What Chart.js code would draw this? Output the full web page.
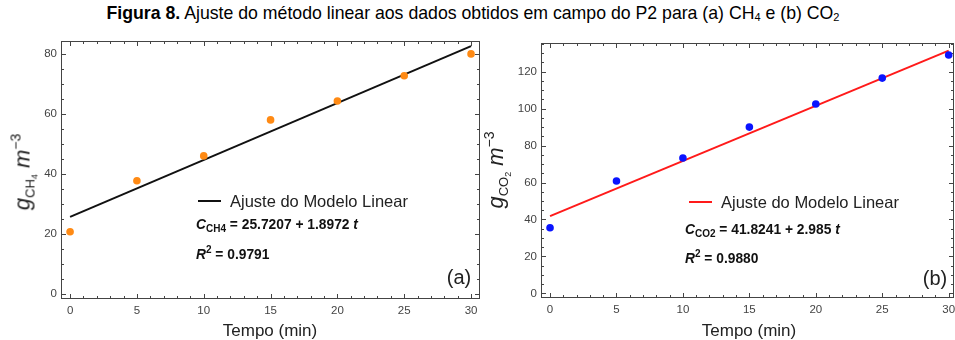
<!DOCTYPE html>
<html>
<head>
<meta charset="utf-8">
<script src="https://cdn.jsdelivr.net/npm/chart.js@4.4.1/dist/chart.umd.min.js"></script>
<style>
body { margin: 0; width: 955px; height: 340px; overflow: hidden; background: #fff; position: relative;
       font-family: "Liberation Sans", Arial, sans-serif; color: #222; }
.box { position: absolute; }
#title { position: absolute; left: 0; width: 946px; top: 4px; text-align: center; font-size: 17.7px; line-height: 19px; color: #000; }
#title sub { font-size: 11px; vertical-align: -2px; line-height: 0; }
.ytitle { position: absolute; transform: translate(-50%, -50%) rotate(-90deg); white-space: nowrap; font-size: 22px; line-height: 22px; color: #222; }
.ytitle .s { font-size: 13px; vertical-align: -5px; }
.ytitle .s2 { font-size: 9px; vertical-align: -3px; }
.ytitle .p { font-size: 14px; vertical-align: 9px; }
.xtitle { position: absolute; transform: translate(-50%, -50%); font-size: 17px; white-space: nowrap; }
.leg { position: absolute; font-size: 16.5px; line-height: 18px; white-space: nowrap; }
.leg span.ln { display: inline-block; width: 23px; height: 2px; vertical-align: 5px; margin-right: 9px; }
.eq { position: absolute; font-size: 13.8px; font-weight: bold; white-space: nowrap; line-height: 16px; color: #111; }
.eq .s { font-size: 10px; vertical-align: -3px; }
.eq .p { font-size: 10px; vertical-align: 6px; }
.tag { position: absolute; font-size: 20px; transform: translate(-50%, -50%); white-space: nowrap; }
</style>
</head>
<body>
<div id="title"><b>Figura 8.</b> Ajuste do método linear aos dados obtidos em campo do P2 para (a) CH<sub>4</sub> e (b) CO<sub>2</sub></div>

<div class="box" style="left:0;top:30px;width:490px;height:310px"><canvas id="chartA"></canvas></div>
<div class="box" style="left:490px;top:30px;width:480px;height:310px"><canvas id="chartB"></canvas></div>

<div class="ytitle" style="left:25px;top:172px"><i>g</i><span class="s">CH<span class="s2">4</span></span> <i>m</i><span class="p">−3</span></div>
<div class="ytitle" style="left:498px;top:170px"><i>g</i><span class="s">CO<span class="s2">2</span></span> <i>m</i><span class="p">−3</span></div>

<div class="xtitle" style="left:270px;top:331px">Tempo (min)</div>
<div class="xtitle" style="left:749px;top:331px">Tempo (min)</div>

<div class="leg" style="left:198px;top:192px"><span class="ln" style="background:#111"></span>Ajuste do Modelo Linear</div>
<div class="eq" style="left:196px;top:217px"><i>C</i><span class="s">CH4</span> = 25.7207 + 1.8972 <i>t</i></div>
<div class="eq" style="left:196px;top:242px"><i>R</i><span class="p">2</span> = 0.9791</div>
<div class="tag" style="left:459px;top:277px">(a)</div>

<div class="leg" style="left:689px;top:193px"><span class="ln" style="background:#ff1a1a"></span>Ajuste do Modelo Linear</div>
<div class="eq" style="left:685px;top:222px"><i>C</i><span class="s">CO2</span> = 41.8241 + 2.985 <i>t</i></div>
<div class="eq" style="left:685px;top:246px"><i>R</i><span class="p">2</span> = 0.9880</div>
<div class="tag" style="left:935px;top:278px">(b)</div>

<script>
const times = [0, 5, 10, 15, 20, 25, 30];
const ch4 = [20.7, 37.7, 46, 58, 64.3, 72.7, 80];
const co2 = [35.5, 60.8, 73.3, 90, 102.5, 116.5, 129];

// fitted line end points
const fitT = [0, 30];
const fitCH4 = [25.7, 82.6];
const fitCO2 = [41.8, 131.4];

// tick labels
const xTicks = [0, 5, 10, 15, 20, 25, 30];
const yTicksCH4 = [0, 20, 40, 60, 80];
const yTicksCO2 = [0, 20, 40, 60, 80, 100, 120];

function pairs(xs, ys) {
    return xs.map((x, i) => ({ x: x, y: ys[i] }));
}

// frame with inward ticks on all four sides
const frameTicks = {
    id: 'frameTicks',
    beforeDatasetsDraw(chart, args, opts) {
        const { ctx, chartArea: a, scales: { x, y } } = chart;
        ctx.save();
        ctx.strokeStyle = '#444';
        ctx.lineWidth = 1;
        ctx.strokeRect(Math.round(a.left) + 0.5, Math.round(a.top) + 0.5,
                       Math.round(a.width) - 1, Math.round(a.height) - 1);
        ctx.beginPath();
        for (let v = Math.ceil(x.min); v <= x.max; v += 1) {
            const px = Math.round(x.getPixelForValue(v)) + 0.5;
            const len = v % 5 === 0 ? 5 : 3;
            ctx.moveTo(px, a.bottom); ctx.lineTo(px, a.bottom - len);
            ctx.moveTo(px, a.top); ctx.lineTo(px, a.top + len);
        }
        for (let v = Math.ceil(y.min / 5) * 5; v <= y.max; v += 5) {
            const py = Math.round(y.getPixelForValue(v)) + 0.5;
            const len = v % 20 === 0 ? 5 : 3;
            ctx.moveTo(a.left, py); ctx.lineTo(a.left + len, py);
            ctx.moveTo(a.right, py); ctx.lineTo(a.right - len, py);
        }
        ctx.stroke();
        ctx.restore();
    }
};

function makeChart(id, pts, fit, ptColor, lineColor, yMin, yMax, yTicks, xMax, geo) {
    const ctx = document.getElementById(id).getContext('2d');
    return new Chart(ctx, {
        type: 'scatter',
        data: {
            datasets: [{
                data: pairs(times, pts),
                backgroundColor: ptColor,
                borderWidth: 0,
                pointRadius: 3.8,
                order: 1
            }, {
                type: 'line',
                data: pairs(fitT, fit),
                borderColor: lineColor,
                borderWidth: 2,
                pointRadius: 0,
                fill: false,
                order: 2
            }]
        },
        options: {
            responsive: true,
            maintainAspectRatio: false,
            animation: false,
            layout: { padding: { left: 0, top: geo.top, right: geo.right, bottom: 0 } },
            scales: {
                x: {
                    type: 'linear',
                    min: -0.68,
                    max: xMax,
                    grid: { display: false, drawTicks: false },
                    border: { display: false },
                    afterBuildTicks: s => { s.ticks = xTicks.map(v => ({ value: v })); },
                    afterFit: s => { s.height = geo.xh; },
                    ticks: {
                        padding: 5,
                        color: '#444',
                        font: { family: 'Liberation Sans', size: 11.5 }
                    }
                },
                y: {
                    type: 'linear',
                    min: yMin,
                    max: yMax,
                    grid: { display: false, drawTicks: false },
                    border: { display: false },
                    afterBuildTicks: s => { s.ticks = yTicks.map(v => ({ value: v })); },
                    afterFit: s => { s.width = geo.yw; },
                    ticks: {
                        padding: 4,
                        color: '#444',
                        font: { family: 'Liberation Sans', size: 11.5 }
                    }
                }
            },
            plugins: {
                legend: { display: false },
                tooltip: { enabled: false }
            }
        },
        plugins: [frameTicks]
    });
}

makeChart('chartA', ch4, fitCH4, '#ff8a14', '#111111', -1.7, 84.3, yTicksCH4, 30.67,
          { top: 11, right: 10, xh: 41, yw: 61 });
makeChart('chartB', co2, fitCO2, '#0a14ff', '#ff1a1a', -2.5, 135.5, yTicksCO2, 30.4,
          { top: 13, right: 16, xh: 42, yw: 51 });
</script>
</body>
</html>
